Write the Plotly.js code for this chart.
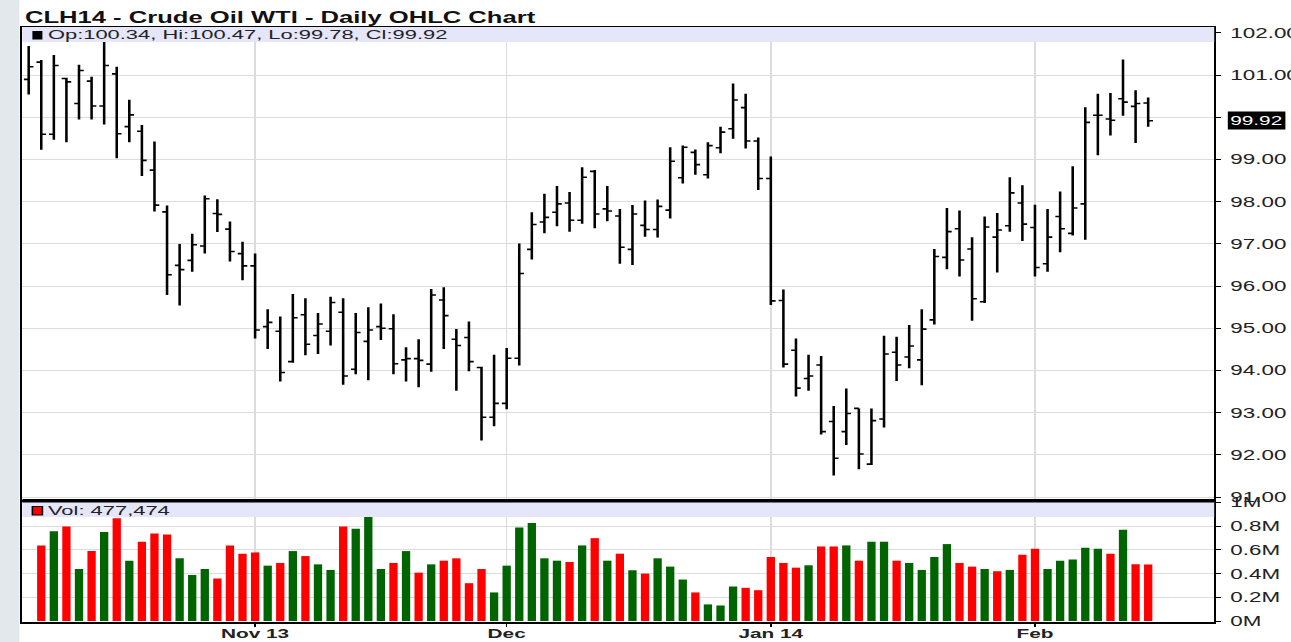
<!DOCTYPE html>
<html><head><meta charset="utf-8">
<script src="https://cdn.plot.ly/plotly-3.0.1.min.js"></script>
<style>
html,body{margin:0;padding:0;background:#fff;overflow:hidden;}
#wrap{position:absolute;left:0;top:0;width:1291px;height:642px;overflow:hidden;}
#chart{width:807px;height:642px;transform:scaleX(1.59975);transform-origin:0 0;}
</style></head><body>
<div id="wrap"><div id="chart"></div></div>
<script>
// ---------- data ----------
const chartTitle = 'CLH14 - Crude Oil WTI - Daily OHLC Chart';
const firstDay = '2013-10-08';
const holidays = ['2013-11-28','2013-12-25','2014-01-01','2014-01-20'];
const monthTickLabels = ['Nov 13','Dec','Jan 14','Feb'];

const opens = [100.90,101.31,99.60,100.92,100.33,100.86,100.27,101.03,99.78,99.67,
  98.75,97.76,96.49,96.61,96.95,97.72,97.35,96.77,96.48,95.04,
  94.93,94.21,95.32,94.83,94.93,95.38,94.03,94.69,95.04,94.99,
  94.25,94.28,94.15,95.67,94.74,94.78,94.07,92.89,93.22,94.29,
  96.87,97.52,97.75,97.97,97.56,98.72,97.83,97.66,96.87,97.44,
  97.34,97.80,98.57,99.17,98.64,99.28,99.73,100.23,99.44,98.55,
  95.66,94.48,93.81,94.13,92.79,92.55,93.10,91.78,92.85,94.43,
  94.32,94.25,95.20,96.68,97.36,96.88,95.63,97.16,97.43,97.97,
  97.39,96.53,97.65,97.25,97.95,100.05,99.96,100.44,100.26,100.34];
const highs = [101.69,101.36,101.48,100.94,101.25,100.96,101.83,101.20,100.42,99.82,
  99.43,97.91,97.00,97.24,98.15,98.06,97.53,97.05,96.77,95.45,
  95.28,95.81,95.71,95.36,95.75,95.71,95.36,95.50,95.59,95.33,
  94.55,94.74,95.93,95.97,94.98,95.16,94.09,94.37,94.53,97.01,
  97.75,98.19,98.37,98.23,98.82,98.75,98.37,97.83,97.92,98.03,
  98.05,99.29,99.33,99.24,99.41,99.78,100.80,100.56,99.52,99.07,
  95.92,94.76,94.37,94.34,93.16,93.57,93.10,93.10,94.82,94.80,
  95.08,95.45,96.88,97.85,97.79,97.16,97.65,97.73,98.58,98.39,
  97.93,97.83,98.24,98.84,100.24,100.56,100.58,101.37,100.64,100.47];
const lows = [100.54,99.23,99.47,99.41,99.95,99.95,99.83,99.03,99.41,98.61,
  97.77,95.79,95.54,96.34,96.77,97.28,96.58,96.14,94.76,94.51,
  93.74,94.18,94.36,94.39,94.59,93.66,93.91,93.77,94.72,93.91,
  93.74,93.60,93.97,94.51,93.52,93.98,92.34,92.68,93.08,94.12,
  96.63,97.25,97.42,97.29,97.48,97.37,97.54,96.53,96.50,97.17,
  97.15,97.60,98.43,98.64,98.55,99.15,99.49,99.26,98.28,95.55,
  94.07,93.38,93.52,92.48,91.51,92.23,91.66,91.76,92.65,93.75,
  94.05,93.65,95.09,96.40,96.23,95.18,95.60,96.32,97.29,97.07,
  96.23,96.34,96.80,97.20,97.10,99.10,99.57,100.04,99.39,99.78];
const closes = [101.20,99.60,101.23,100.84,101.11,100.27,101.23,99.61,100.06,98.98,
  97.92,96.27,96.39,96.98,98.07,97.70,96.82,96.48,94.96,95.14,
  93.95,95.25,94.62,95.10,95.61,93.87,94.90,94.96,95.00,94.16,
  94.28,94.24,95.79,95.30,94.59,94.21,92.89,93.22,94.29,96.30,
  97.46,97.63,97.95,97.56,98.58,97.71,97.78,96.92,97.71,97.34,
  97.89,98.96,99.29,98.88,99.33,99.65,100.41,99.44,98.55,95.65,
  94.15,93.58,93.87,92.55,91.92,92.98,92.02,92.81,94.39,94.13,
  94.58,94.98,96.70,97.29,96.62,95.70,97.40,97.33,98.21,97.47,
  96.44,97.16,97.36,97.85,99.88,100.05,99.93,100.36,100.33,99.92];
// volume in contracts (first bar has no visible volume)
const volumes = [null,638000,758000,797000,439000,590000,750000,867000,509000,669000,
  738000,730000,529000,389000,439000,358000,638000,568000,579000,467000,
  490000,590000,548000,478000,431000,797000,778000,884000,439000,490000,
  590000,408000,478000,509000,529000,319000,439000,241000,467000,789000,
  828000,529000,509000,498000,638000,699000,509000,568000,428000,400000,
  529000,459000,350000,241000,140000,131000,291000,280000,260000,540000,
  490000,450000,470000,629000,629000,638000,509000,669000,669000,509000,
  490000,431000,540000,649000,490000,459000,439000,420000,431000,559000,
  610000,439000,509000,520000,618000,610000,568000,769000,478000,477474];
const priceTicks = [91,92,93,94,95,96,97,98,99,100,101,102];
const volTicks = [0,200000,400000,600000,800000,1000000];
const volTickText = ['0M','0.2M','0.4M','0.6M','0.8M','1M'];

// ---------- derived ----------
function tradingDays(start, n) {
  const out = []; const d = new Date(start + 'T12:00:00Z');
  while (out.length < n) {
    const wd = d.getUTCDay(); const s = d.toISOString().slice(0,10);
    if (wd !== 0 && wd !== 6 && holidays.indexOf(s) < 0) out.push(s);
    d.setUTCDate(d.getUTCDate() + 1);
  }
  return out;
}
const dates = tradingDays(firstDay, closes.length);
const monthStarts = [];
for (let i = 1; i < dates.length; i++) if (dates[i].slice(5,7) !== dates[i-1].slice(5,7)) monthStarts.push(dates[i]);
const volColors = closes.map((c, i) => (i === 0 || c >= closes[i-1]) ? '#006400' : '#ff0000');
const n = closes.length - 1;

// ---------- geometry (pre-stretch px) ----------
const S = 1291 / 807;
const ML = 23 / S, MR = 807 - 1215 / S, MT = 27, MB = 20;
const PW = 807 - ML - MR, PH = 642 - MT - MB;
const px = x => (x / S - ML) / PW;       // final screen x -> paper
const py = y => (642 - MB - y) / PH;     // screen y -> paper
const FONT = 'Liberation Sans, Arial, Helvetica, sans-serif';
const GRID = '#dcdcdc';

const traces = [
  { type: 'ohlc', x: dates, open: opens, high: highs, low: lows, close: closes,
    xaxis: 'x', yaxis: 'y', tickwidth: 0.38,
    increasing: { line: { color: '#000', width: 1.6 } },
    decreasing: { line: { color: '#000', width: 1.6 } }, hoverinfo: 'skip' },
  { type: 'bar', x: dates, y: volumes, xaxis: 'x2', yaxis: 'y2', width: 0.66,
    marker: { color: volColors, line: { width: 0 } }, hoverinfo: 'skip' }
];

const fmt2 = v => v.toFixed(2);
const layout = {
  width: 807, height: 642,
  margin: { l: ML, r: MR, t: MT, b: MB, pad: 0 },
  paper_bgcolor: '#fff', plot_bgcolor: '#fff',
  showlegend: false, hovermode: false, dragmode: false,
  font: { family: FONT, color: '#222' },
  title: { text: chartTitle, x: 25 / 1291, xref: 'container', xanchor: 'left',
           y: 1 - 17 / 642, yref: 'container', yanchor: 'middle',
           font: { family: FONT, size: 16, weight: 'bold', color: '#111' } },
  xaxis: { type: 'category', anchor: 'y', domain: [0, 1], range: [-0.5, 94.25],
           tickvals: monthStarts, ticktext: monthTickLabels, showticklabels: false, ticks: '',
           showgrid: true, gridcolor: GRID, gridwidth: 1,
           showline: true, mirror: true, linecolor: '#000', linewidth: 1,
           rangeslider: { visible: false }, fixedrange: true },
  yaxis: { anchor: 'x', domain: [py(500), 1], side: 'right', range: [90.929, 102.142],
           tickvals: priceTicks, ticktext: priceTicks.map(v => v === 100 ? '' : fmt2(v)),
           ticks: 'outside', ticklen: 3, tickcolor: '#000', tickwidth: 1,
           tickfont: { family: FONT, size: 14, color: '#222' }, ticklabelstandoff: 3,
           showgrid: true, gridcolor: GRID, gridwidth: 1, zeroline: false,
           showline: true, mirror: true, linecolor: '#000', linewidth: 1.3, fixedrange: true },
  xaxis2: { type: 'category', anchor: 'y2', domain: [0, 1], range: [-0.5, 94.25],
            tickvals: monthStarts, ticktext: monthTickLabels, ticks: 'outside', ticklen: 3,
            tickcolor: '#000', tickfont: { family: FONT, size: 13, weight: 'bold', color: '#222' },
            ticklabelstandoff: -4,
            showgrid: true, gridcolor: GRID, gridwidth: 1,
            showline: true, mirror: true, linecolor: '#000', linewidth: 1.5, fixedrange: true },
  yaxis2: { anchor: 'x2', domain: [0, py(502)], side: 'right', range: [-8400, 1004200],
            tickvals: volTicks, ticktext: volTickText, ticks: 'outside', ticklen: 3,
            tickcolor: '#000', tickfont: { family: FONT, size: 14, color: '#222' }, ticklabelstandoff: 3,
            showgrid: true, gridcolor: GRID, gridwidth: 1, zeroline: false,
            showline: true, mirror: true, linecolor: '#000', linewidth: 1.3, fixedrange: true },
  shapes: [
    { type: 'rect', xref: 'paper', yref: 'paper', x0: px(0), x1: px(20), y0: py(642), y1: py(0),
      fillcolor: '#e3e8ed', line: { width: 0 }, layer: 'below' },
    { type: 'rect', xref: 'paper', yref: 'y domain', x0: 0, x1: 1, y0: 1 - 15 / 473, y1: 1,
      fillcolor: '#e6e6fa', line: { width: 0 }, layer: 'above' },
    { type: 'rect', xref: 'paper', yref: 'y2 domain', x0: 0, x1: 1, y0: 1 - 15 / 120, y1: 1,
      fillcolor: '#e6e6fa', line: { width: 0 }, layer: 'above' },
    { type: 'rect', xref: 'paper', yref: 'paper', x0: 0, x1: 1, y0: py(502.5), y1: py(499),
      fillcolor: '#000', line: { width: 0 }, layer: 'above' },
    { type: 'rect', xref: 'paper', yref: 'paper', x0: px(33), x1: px(43), y0: py(39.5), y1: py(31),
      fillcolor: '#000', line: { width: 0 }, layer: 'above' },
    { type: 'rect', xref: 'paper', yref: 'paper', x0: px(33), x1: px(43), y0: py(515), y1: py(506.5),
      fillcolor: '#ff0000', line: { width: 1, color: '#000' }, layer: 'above' }
  ],
  annotations: [
    { xref: 'paper', yref: 'paper', x: px(45), y: py(35), xanchor: 'left', yanchor: 'middle',
      text: `Op:${fmt2(opens[n])}, Hi:${fmt2(highs[n])}, Lo:${fmt2(lows[n])}, Cl:${fmt2(closes[n])}`,
      showarrow: false, font: { family: FONT, size: 13.7, color: '#222' } },
    { xref: 'paper', yref: 'paper', x: px(45), y: py(510.5), xanchor: 'left', yanchor: 'middle',
      text: `Vol: ${volumes[n].toLocaleString('en-US')}`,
      showarrow: false, font: { family: FONT, size: 13.7, color: '#222' } },
    { xref: 'paper', yref: 'y', x: px(1227), y: closes[n], xanchor: 'left', yanchor: 'middle',
      text: fmt2(closes[n]), showarrow: false, bgcolor: '#000', borderpad: 1,
      font: { family: FONT, size: 13, color: '#fff' } }
  ]
};

Plotly.newPlot('chart', traces, layout, { staticPlot: true, displayModeBar: false });
</script>
</body></html>
